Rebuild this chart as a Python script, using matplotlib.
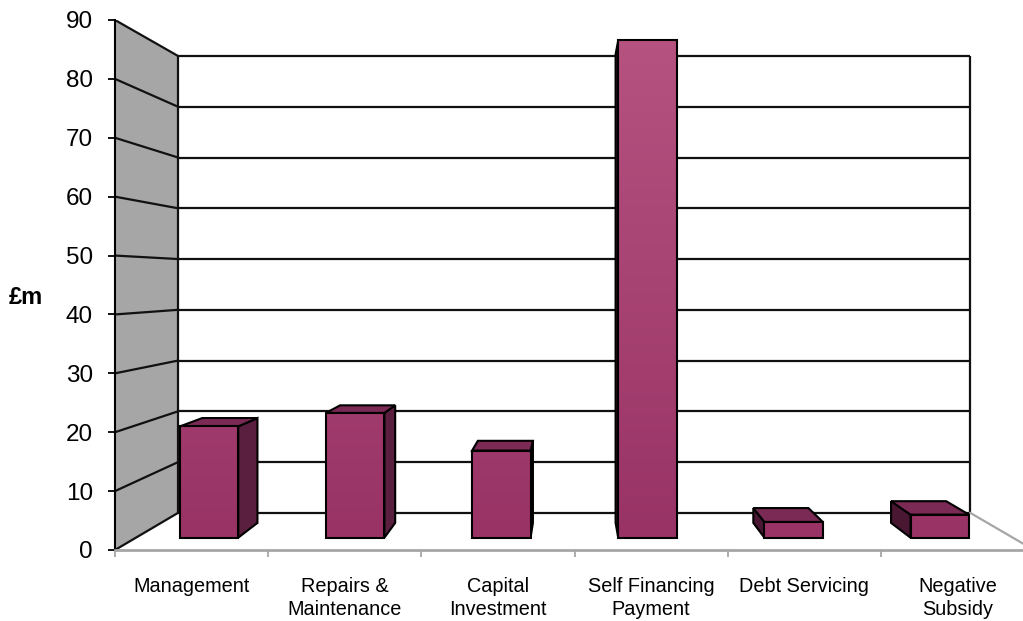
import numpy as np
import matplotlib.pyplot as plt
from matplotlib.patches import Polygon
from matplotlib.colors import LinearSegmentedColormap

# -----------------------------
# Data (£m)
# -----------------------------
categories = ['Management', 'Repairs &\nMaintenance', 'Capital\nInvestment',
              'Self Financing\nPayment', 'Debt Servicing', 'Negative\nSubsidy']
values = [19.8, 22.2, 15.5, 88.5, 2.8, 4.1]
y_ticks = list(range(0, 100, 10))

plt.rcParams['font.family'] = ['Liberation Sans', 'DejaVu Sans']

fig = plt.figure(figsize=(10.23, 6.21), dpi=100)
ax = fig.add_axes([115 / 1023, 71 / 621, 919 / 1023, 530 / 621])

n = len(categories)
ymax = y_ticks[-1]

# -----------------------------
# Simple perspective (Excel-style 3D column chart)
# front plane = axes data coords, depth z in [0, 1]
# -----------------------------
vp = np.array([2.984, 45.7])   # vanishing point, data units
focal = 6.25                   # viewer distance in depth units


def proj(x, y, z):
    s = focal / (focal + z)
    return (vp[0] + (x - vp[0]) * s, vp[1] + (y - vp[1]) * s)


grid_kw = dict(color='#111111', lw=1.6, zorder=1.5, solid_capstyle='butt')

# walls and floor
back = [proj(0, 0, 1), proj(n, 0, 1), proj(n, ymax, 1), proj(0, ymax, 1)]
ax.add_patch(Polygon(back, closed=True, facecolor='white', edgecolor='none', zorder=1))
left = [(0, 0), proj(0, 0, 1), proj(0, ymax, 1), (0, ymax)]
ax.add_patch(Polygon(left, closed=True, facecolor='#A6A6A6', edgecolor='none', zorder=1))

for v in y_ticks:
    p0, p1, p2 = (0, v), proj(0, v, 1), proj(n, v, 1)
    ax.plot([p0[0], p1[0]], [p0[1], p1[1]], **grid_kw)
    ax.plot([p1[0], p2[0]], [p1[1], p2[1]], **grid_kw)

# back wall edges + floor side
b0, b1 = proj(0, 0, 1), proj(0, ymax, 1)
ax.plot([b0[0], b1[0]], [b0[1], b1[1]], **grid_kw)
r0, r1 = proj(n, 0, 1), proj(n, ymax, 1)
ax.plot([r0[0], r1[0]], [r0[1], r1[1]], **grid_kw)
ax.plot([r0[0], n], [r0[1], 0], color='#A6A6A6', lw=1.6, zorder=1.5, clip_on=False)

# -----------------------------
# Bars
# -----------------------------
front_c = '#993366'
top_c = '#7A2A55'
side_c = '#5A1E3E'
cmap = LinearSegmentedColormap.from_list('bar', [front_c, '#B65380'])
edge_kw = dict(edgecolor='black', lw=1.5, joinstyle='miter')

for i, v in enumerate(values):
    x0, x1 = i + 0.3, i + 0.7
    z0, z1 = 0.3, 0.7
    if x1 < vp[0]:
        side = [proj(x1, 0, z0), proj(x1, 0, z1), proj(x1, v, z1), proj(x1, v, z0)]
        ax.add_patch(Polygon(side, facecolor=side_c, zorder=3, **edge_kw))
    if x0 > vp[0]:
        side = [proj(x0, 0, z0), proj(x0, 0, z1), proj(x0, v, z1), proj(x0, v, z0)]
        ax.add_patch(Polygon(side, facecolor='#4A1733', zorder=3, **edge_kw))
    if v < vp[1]:
        top = [proj(x0, v, z0), proj(x1, v, z0), proj(x1, v, z1), proj(x0, v, z1)]
        ax.add_patch(Polygon(top, facecolor=top_c, zorder=3, **edge_kw))
    front = [proj(x0, 0, z0), proj(x1, 0, z0), proj(x1, v, z0), proj(x0, v, z0)]
    fp = Polygon(front, facecolor='none', zorder=4, **edge_kw)
    ax.add_patch(fp)
    fa, fb = front[0], front[2]
    grad = np.linspace(0, v, 256).reshape(-1, 1)
    im = ax.imshow(grad, extent=[fa[0], fb[0], fa[1], fb[1]], origin='lower',
                   cmap=cmap, vmin=0, vmax=ymax, aspect='auto', zorder=3.5)
    im.set_clip_path(fp)

# -----------------------------
# Axes
# -----------------------------
ax.set_xlim(0, n)
ax.set_ylim(0, ymax)
ax.patch.set_visible(False)

ax.set_yticks(y_ticks)
ax.tick_params(axis='y', length=5, width=1.3, labelsize=17.5, pad=11)

ax.set_xticks(range(n + 1))
ax.set_xticklabels([])
ax.set_xticks(np.arange(n) + 0.5, minor=True)
ax.set_xticklabels(categories, minor=True, fontsize=14.3)
ax.tick_params(axis='x', which='major', length=5, width=1.3, color='#A6A6A6')
ax.tick_params(axis='x', which='minor', length=0, pad=19.5)
for lab in ax.get_xticklabels(minor=True):
    lab.set_linespacing(1.28)

for s in ['top', 'right']:
    ax.spines[s].set_visible(False)
ax.spines['left'].set_color('black')
ax.spines['left'].set_linewidth(1.5)
ax.spines['bottom'].set_color('#A6A6A6')
ax.spines['bottom'].set_linewidth(2)

ax.set_ylabel('£m', rotation=0, fontsize=17, fontweight='bold', ha='center', va='center')
ax.yaxis.set_label_coords(-0.097, 0.477)

fig.savefig('out.png', dpi=100, facecolor='white')
